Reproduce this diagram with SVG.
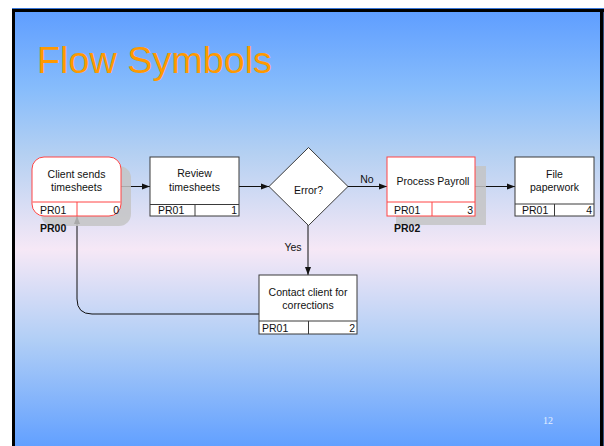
<svg xmlns="http://www.w3.org/2000/svg" width="604" height="446" viewBox="0 0 604 446">
<defs>
<linearGradient id="bg" gradientUnits="userSpaceOnUse" x1="0" y1="9" x2="0" y2="446">
<stop offset="0" stop-color="#5E9DFF"/>
<stop offset="0.18" stop-color="#86BCFC"/>
<stop offset="0.33" stop-color="#B4D0F2"/>
<stop offset="0.55" stop-color="#F6E8F6"/>
<stop offset="0.76" stop-color="#B0CEF6"/>
<stop offset="1" stop-color="#62A0FF"/>
</linearGradient>
<marker id="ah" viewBox="0 0 8 8" refX="8" refY="4" markerWidth="8" markerHeight="8" markerUnits="userSpaceOnUse" orient="auto">
<path d="M0,1 L8,4 L0,7 Z" fill="#111"/>
</marker>
<style>
.lbl{font-family:"Liberation Sans",Arial,sans-serif;font-size:10.5px;fill:#111}
.ctr{text-anchor:middle}
.end{text-anchor:end}
.bold{font-weight:bold}
.box{fill:#fff;stroke:#3a3a3a;stroke-width:1}
.red{fill:#fff;stroke:#FF4444;stroke-width:1}
.dv{stroke:#3a3a3a;stroke-width:1;fill:none}
.dvr{stroke:#FF4444;stroke-width:1;fill:none}
.shadow{fill:#C4C4C4;opacity:0.85}
.conn{stroke:#111;stroke-width:1;fill:none;marker-end:url(#ah)}
</style>
</defs>
<rect x="0" y="0" width="604" height="446" fill="#fff"/>
<rect x="12" y="9" width="592" height="437" fill="url(#bg)"/>
<line x1="12" y1="8.5" x2="604" y2="8.5" stroke="#3A78D8" stroke-width="1"/>
<rect x="12" y="9" width="592" height="3" fill="#000"/>
<rect x="12" y="9" width="3" height="437" fill="#000"/>
<rect x="600" y="9" width="3.5" height="437" fill="#000"/>
<text x="37" y="73" font-family="Liberation Sans, Arial, sans-serif" font-size="37" fill="#FF9900" textLength="235" lengthAdjust="spacingAndGlyphs">Flow Symbols</text>
<text x="548" y="424" font-family="Liberation Serif, Times New Roman, serif" font-size="10" fill="#E4EEFF" text-anchor="middle">12</text>

<g id="connectors">
<line class="conn" x1="121" y1="186.5" x2="150" y2="186.5"/>
<line class="conn" x1="239" y1="186.5" x2="269" y2="186.5"/>
<line class="conn" x1="348" y1="186.5" x2="387" y2="186.5"/>
<line class="conn" x1="475" y1="186.5" x2="515" y2="186.5"/>
<line class="conn" x1="308" y1="225" x2="308" y2="275"/>
<path class="conn" d="M259,314 L92,314 Q77,314 77,299 L77,216"/>
<text class="lbl ctr" x="367" y="183">No</text>
<text class="lbl ctr" x="293" y="250.5">Yes</text>
</g>

<g id="node-client">
<rect class="shadow" x="41" y="166" width="90" height="60" rx="12"/>
<rect class="red" x="32" y="157" width="89" height="59" rx="12"/>
<line class="dvr" x1="32.5" y1="202" x2="120.5" y2="202"/>
<line class="dvr" x1="77" y1="202" x2="77" y2="216"/>
<text class="lbl ctr" x="76.5" y="178">Client sends</text>
<text class="lbl ctr" x="76.5" y="190.5">timesheets</text>
<text class="lbl" x="40" y="213.5">PR01</text>
<text class="lbl end" x="119" y="213.5">0</text>
<text class="lbl bold" x="40" y="232">PR00</text>
</g>

<g id="node-review">
<rect class="box" x="150" y="157" width="89" height="59"/>
<line class="dv" x1="150" y1="204.5" x2="239" y2="204.5"/>
<line class="dv" x1="195" y1="204.5" x2="195" y2="216"/>
<text class="lbl ctr" x="194.5" y="177">Review</text>
<text class="lbl ctr" x="194.5" y="190.5">timesheets</text>
<text class="lbl" x="158" y="213.5">PR01</text>
<text class="lbl end" x="237" y="213.5">1</text>
</g>

<g id="node-error">
<polygon class="box" points="308.5,147.5 348,186.5 308.5,225.5 269,186.5"/>
<text class="lbl ctr" x="308.5" y="193.5">Error?</text>
</g>

<g id="node-process">
<rect class="shadow" x="396" y="166" width="90" height="59"/>
<rect class="red" x="387" y="157" width="88" height="59"/>
<line class="dvr" x1="387" y1="202" x2="475" y2="202"/>
<line class="dvr" x1="432" y1="202" x2="432" y2="216"/>
<text class="lbl ctr" x="433" y="184.5">Process Payroll</text>
<text class="lbl" x="394" y="213.5">PR01</text>
<text class="lbl end" x="473" y="213.5">3</text>
<text class="lbl bold" x="394" y="232">PR02</text>
</g>

<g id="node-file">
<rect class="box" x="515" y="157" width="79" height="59"/>
<line class="dv" x1="515" y1="204" x2="594" y2="204"/>
<line class="dv" x1="554.5" y1="204" x2="554.5" y2="216"/>
<text class="lbl ctr" x="554.5" y="177.5">File</text>
<text class="lbl ctr" x="554.5" y="190.5">paperwork</text>
<text class="lbl" x="522" y="213.5">PR01</text>
<text class="lbl end" x="592" y="213.5">4</text>
</g>

<g id="node-contact">
<rect class="box" x="259" y="275" width="98" height="59"/>
<line class="dv" x1="259" y1="321" x2="357" y2="321"/>
<line class="dv" x1="308.5" y1="321" x2="308.5" y2="334"/>
<text class="lbl ctr" x="308" y="296">Contact client for</text>
<text class="lbl ctr" x="308" y="308.5">corrections</text>
<text class="lbl" x="262" y="331.5">PR01</text>
<text class="lbl end" x="355" y="331.5">2</text>
</g>
</svg>
